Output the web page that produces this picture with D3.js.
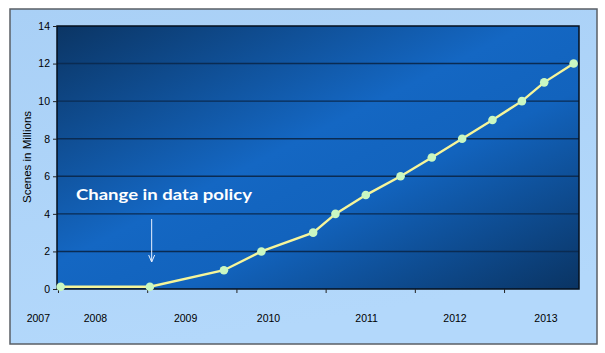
<!DOCTYPE html>
<html>
<head>
<meta charset="utf-8">
<script src="https://cdn.jsdelivr.net/npm/d3@7"></script>
<style>
  body { margin: 0; background: #fff; }
  .tick text { font-family: "Liberation Sans", Arial, sans-serif; font-size: 10.5px; fill: #000; }
  .axis-label { font-family: "Liberation Sans", Arial, sans-serif; font-size: 11.5px; fill: #000; }
  .year-label { font-family: "Liberation Sans", Arial, sans-serif; font-size: 10.5px; fill: #000; }
  .note { font-family: Lato, "Open Sans", sans-serif; font-weight: bold; font-size: 16px; fill: #fff; }
</style>
</head>
<body>
<div id="chart"></div>
<script>
// Time of each data point, in decimal years
const pointYears = [2008.03, 2009.03, 2009.86, 2010.28, 2010.86, 2011.11, 2011.45,
                    2011.84, 2012.19, 2012.53, 2012.87, 2013.20, 2013.45, 2013.78];
// Scenes (millions)
const sceneValues = [0.12, 0.12, 1, 2, 3, 4, 5, 6, 7, 8, 9, 10, 11, 12];

const yTicks = [0, 2, 4, 6, 8, 10, 12, 14];
const xTickYears = [2008, 2009, 2010, 2011, 2012, 2013];

// The year captions under the axis and where they sit (decimal years)
const yearLabels = ["2007", "2008", "2009", "2010", "2011", "2012", "2013"];
const yearLabelPos = [2007.78, 2008.42, 2009.43, 2010.36, 2011.46, 2012.45, 2013.47];

const noteText = "Change in data policy";
const notePolicyYear = 2009.05;

class LineChartView {
  constructor(_config) {
    this.config = {
      parentElement: _config.parentElement,
      containerWidth: _config.containerWidth || 605,
      containerHeight: _config.containerHeight || 353,
      margin: _config.margin || { top: 26, right: 26, bottom: 64, left: 57 },
    };
    this.initVis();
  }

  initVis() {
    let vis = this;
    vis.width = vis.config.containerWidth - vis.config.margin.left - vis.config.margin.right;
    vis.height = vis.config.containerHeight - vis.config.margin.top - vis.config.margin.bottom;

    vis.svg = d3.select(vis.config.parentElement)
      .append("svg")
      .attr("width", vis.config.containerWidth)
      .attr("height", vis.config.containerHeight);

    const defs = vis.svg.append("defs");

    // light blue frame fill
    const frameGrad = defs.append("linearGradient")
      .attr("id", "frameGrad")
      .attr("x1", 0).attr("y1", 0).attr("x2", 0.3).attr("y2", 1);
    frameGrad.append("stop").attr("offset", "0%").attr("stop-color", "#a9d0f6");
    frameGrad.append("stop").attr("offset", "100%").attr("stop-color", "#b3d8fb");

    // dark blue plot area, dark at the corners on the diagonal
    const plotGrad = defs.append("linearGradient")
      .attr("id", "plotGrad")
      .attr("x1", 0).attr("y1", 0).attr("x2", 1).attr("y2", 1);
    plotGrad.append("stop").attr("offset", "0%").attr("stop-color", "#0b3564");
    plotGrad.append("stop").attr("offset", "45%").attr("stop-color", "#1467c3");
    plotGrad.append("stop").attr("offset", "62%").attr("stop-color", "#1263bd");
    plotGrad.append("stop").attr("offset", "100%").attr("stop-color", "#0a3463");

    // outer frame
    vis.svg.append("rect")
      .attr("x", 10).attr("y", 9)
      .attr("width", 587).attr("height", 335)
      .attr("fill", "url(#frameGrad)")
      .attr("stroke", "#5a5f66")
      .attr("stroke-width", 1.5);

    vis.chart = vis.svg.append("g")
      .attr("transform", `translate(${vis.config.margin.left},${vis.config.margin.top})`);

    vis.chart.append("rect")
      .attr("width", vis.width)
      .attr("height", vis.height)
      .attr("fill", "url(#plotGrad)");

    vis.xScale = d3.scaleLinear()
      .domain([2007.989, 2013.84])
      .range([0, vis.width]);

    vis.yScale = d3.scaleLinear()
      .domain([0, 14])
      .range([vis.height, 0]);

    // gridlines
    vis.chart.selectAll(".grid")
      .data(yTicks.filter(d => d > 0 && d < 14))
      .join("line")
      .attr("class", "grid")
      .attr("x1", 0).attr("x2", vis.width)
      .attr("y1", d => vis.yScale(d)).attr("y2", d => vis.yScale(d))
      .attr("stroke", "#0a2b52")
      .attr("stroke-width", 1.4);

    vis.chart.append("rect")
      .attr("width", vis.width)
      .attr("height", vis.height)
      .attr("fill", "none")
      .attr("stroke", "#050f1c")
      .attr("stroke-width", 1.5);

    vis.xAxisG = vis.chart.append("g")
      .attr("class", "axis x-axis")
      .attr("transform", `translate(0,${vis.height})`);
    vis.yAxisG = vis.chart.append("g").attr("class", "axis y-axis");

    vis.chart.append("text")
      .attr("class", "axis-label")
      .attr("transform", "rotate(-90)")
      .attr("x", -131)
      .attr("y", -26)
      .attr("text-anchor", "middle")
      .text("Scenes in Millions");

    vis.updateVis();
  }

  updateVis() {
    let vis = this;

    vis.xAxis = d3.axisBottom(vis.xScale)
      .tickValues(xTickYears)
      .tickSize(4)
      .tickFormat("");
    vis.yAxis = d3.axisLeft(vis.yScale)
      .tickValues(yTicks)
      .tickSize(4)
      .tickPadding(3);

    vis.xAxisG.call(vis.xAxis);
    vis.yAxisG.call(vis.yAxis);
    vis.chart.selectAll(".axis .domain").remove();
    vis.chart.selectAll(".axis .tick line").attr("stroke", "#222").attr("stroke-width", 1);

    vis.renderVis();
  }

  renderVis() {
    let vis = this;
    const data = pointYears.map((t, i) => ({ t: t, v: sceneValues[i] }));

    const line = d3.line()
      .x(d => vis.xScale(d.t))
      .y(d => vis.yScale(d.v));

    vis.chart.append("path")
      .datum(data)
      .attr("fill", "none")
      .attr("stroke", "#f6f59a")
      .attr("stroke-width", 2.4)
      .attr("d", line);

    vis.chart.selectAll(".pt")
      .data(data)
      .join("circle")
      .attr("class", "pt")
      .attr("cx", d => vis.xScale(d.t))
      .attr("cy", d => vis.yScale(d.v))
      .attr("r", 4.3)
      .attr("fill", "#c9f7c2");

    // year captions below the plot
    vis.chart.selectAll(".year-label")
      .data(yearLabels)
      .join("text")
      .attr("class", "year-label")
      .attr("x", (d, i) => vis.xScale(yearLabelPos[i]))
      .attr("y", vis.height + 33)
      .attr("text-anchor", "middle")
      .text(d => d);

    // annotation
    vis.chart.append("text")
      .attr("class", "note")
      .attr("x", 19)
      .attr("y", 174)
      .attr("textLength", 176)
      .attr("lengthAdjust", "spacingAndGlyphs")
      .text(noteText);

    const ax = vis.xScale(notePolicyYear);
    vis.chart.append("line")
      .attr("x1", ax).attr("x2", ax)
      .attr("y1", 193).attr("y2", 236)
      .attr("stroke", "#e8f0ff")
      .attr("stroke-width", 1);
    vis.chart.append("path")
      .attr("d", `M${ax - 3},${229} L${ax},${236} L${ax + 3},${229}`)
      .attr("fill", "none")
      .attr("stroke", "#e8f0ff")
      .attr("stroke-width", 1);
  }
}

new LineChartView({ parentElement: "#chart" });
</script>
</body>
</html>
